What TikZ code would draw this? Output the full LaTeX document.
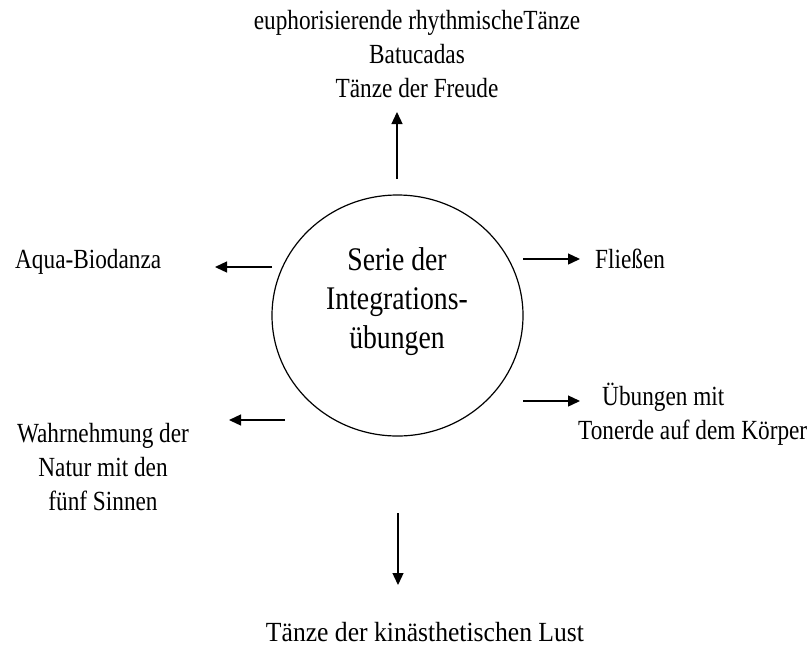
\documentclass[tikz,border=0pt]{standalone}
\usepackage{fontspec}
\setmainfont[FakeStretch=0.84]{Liberation Serif}
\newfontfamily\widefont[FakeStretch=0.925]{Liberation Serif}
\usetikzlibrary{arrows.meta,shapes.geometric}
\begin{document}
\begin{tikzpicture}[x=1pt,y=-1pt,
  lbl/.style={font=\fontsize{27.7}{34}\selectfont, inner sep=0pt, align=center},
  hubtxt/.style={font=\fontsize{33}{39}\selectfont, inner sep=0pt, align=center},
  hubshape/.style={draw, ellipse, line width=1.2pt, minimum width=251pt, minimum height=241pt, inner sep=0pt},
  arr/.style={line width=1.3pt, -{Triangle[length=12pt,width=11pt]}}]
\useasboundingbox (0,0) rectangle (811,649);
% hub
\node[hubshape] (hub) at (397.5,315.5) {};
\node[hubtxt, anchor=base] (hubtext) at (397,348) {Serie der\\Integrations-\\übungen};
% labels
\node[lbl, anchor=base] (top) at (417,97.5) {euphorisierende rhythmischeTänze\\Batucadas\\Tänze der Freude};
\node[lbl, anchor=base west] (aqua) at (15,268) {Aqua-Biodanza};
\node[lbl, anchor=base west] (fliessen) at (595,268) {Fließen};
\node[lbl, anchor=base] (wahr) at (103,510) {Wahrnehmung der\\Natur mit den\\fünf Sinnen};
\node[lbl, anchor=base west, align=left] (uebungen) at (578,439) {\hspace*{24pt}Übungen mit\\Tonerde auf dem Körper};
\node[lbl, anchor=base, font=\widefont\fontsize{27.7}{34}\selectfont] (bottom) at (425,641) {Tänze der kinästhetischen Lust};
% arrow end points
\coordinate (a1s) at (397,179); \coordinate (a1e) at (397,112);
\coordinate (a2s) at (272,267); \coordinate (a2e) at (215,267);
\coordinate (a3s) at (523,259); \coordinate (a3e) at (580,259);
\coordinate (a4s) at (285,420); \coordinate (a4e) at (229,420);
\coordinate (a5s) at (523,401); \coordinate (a5e) at (580,401);
\coordinate (a6s) at (398,513); \coordinate (a6e) at (398,585);
\draw[arr] (a1s) -- (a1e);
\draw[arr] (a2s) -- (a2e);
\draw[arr] (a3s) -- (a3e);
\draw[arr] (a4s) -- (a4e);
\draw[arr] (a5s) -- (a5e);
\draw[arr] (a6s) -- (a6e);
\end{tikzpicture}
\end{document}
